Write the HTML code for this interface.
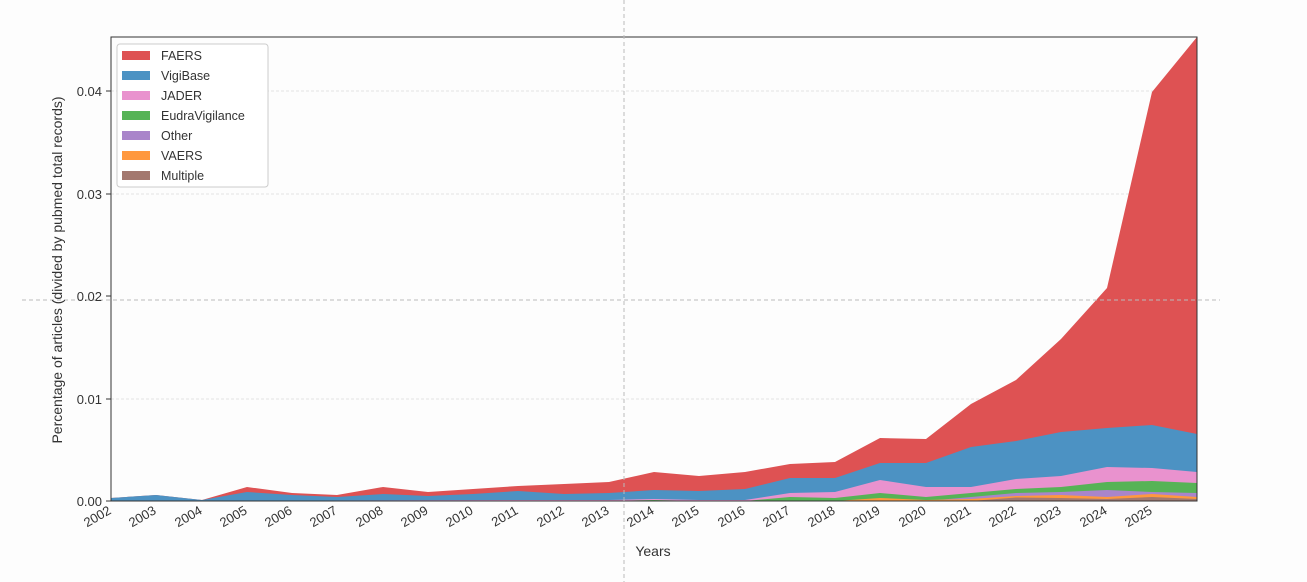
<!DOCTYPE html>
<html><head><meta charset="utf-8"><style>
html,body{margin:0;padding:0;background:#fff;}
svg{display:block;font-family:"Liberation Sans","DejaVu Sans",sans-serif;}
</style></head><body>
<svg width="1307" height="582" viewBox="0 0 1307 582" xmlns="http://www.w3.org/2000/svg">
<rect width="1307" height="582" fill="#fdfdfd"/>
<g stroke="#e4e4e4" stroke-dasharray="3,2" stroke-width="1">
<line x1="111" y1="91" x2="1197" y2="91"/>
<line x1="111" y1="194" x2="1197" y2="194"/>
<line x1="111" y1="399" x2="1197" y2="399"/>
</g>
<polygon fill="#de5253" points="111,498 156,495 202,500 247,487 292,493 337,495 383,487 428,492 473,489 518,486 564,484 609,482 654,472 699,476 745,472 790,464 835,462 880,438 926,439 971,404 1016,380 1061,339 1107,288 1152,92 1197,37 1197,501 111,501"/>
<polygon fill="#4c92c3" points="111,498 156,495 202,500 247,492 292,495 337,497 383,494 428,496 473,494 518,491 564,494 609,493 654,490 699,491 745,489 790,478 835,478 880,463 926,463 971,447 1016,441 1061,432 1107,428 1152,425 1197,434 1197,501 111,501"/>
<polygon fill="#e992ce" points="111,501 518,500 609,500 654,499 699,500 745,500 790,493 835,492 880,480 926,487 971,487 1016,479 1061,476 1107,467 1152,468 1197,472 1197,501 111,501"/>
<polygon fill="#56b356" points="111,501 609,501 654,500 699,501 745,501 790,497 835,498 880,493 926,497 971,493 1016,489 1061,487 1107,482 1152,481 1197,483 1197,501 111,501"/>
<polygon fill="#a985ca" points="111,501 926,501 971,497 1016,493 1061,492 1107,490 1152,492 1197,493 1197,501 111,501"/>
<polygon fill="#ff983e" points="111,501 835,501 880,498 926,500 971,499 1016,496 1061,495 1107,497 1152,494 1197,497 1197,501 111,501"/>
<polygon fill="#a3786f" points="111,501 971,501 1016,497.5 1061,498 1107,499 1152,497 1197,499 1197,501 111,501"/>
<rect x="111" y="37" width="1086" height="464" fill="none" stroke="#333" stroke-width="1"/>
<line x1="624" y1="0" x2="624" y2="582" stroke="#bbb" stroke-dasharray="4,3"/>
<line x1="22" y1="300" x2="1220" y2="300" stroke="#bbb" stroke-dasharray="4,3"/>
<g font-size="13" fill="#333" text-anchor="end">
<text x="102" y="506">0.00</text>
<text x="102" y="404">0.01</text>
<text x="102" y="301">0.02</text>
<text x="102" y="199">0.03</text>
<text x="102" y="96">0.04</text>
</g>
<g stroke="#333"><line x1="106" y1="501" x2="111" y2="501"/><line x1="106" y1="399" x2="111" y2="399"/><line x1="106" y1="296" x2="111" y2="296"/><line x1="106" y1="194" x2="111" y2="194"/><line x1="106" y1="91" x2="111" y2="91"/></g>
<g font-size="13" fill="#333" text-anchor="end">
<text transform="translate(112,513) rotate(-30)">2002</text>
<text transform="translate(157,513) rotate(-30)">2003</text>
<text transform="translate(203,513) rotate(-30)">2004</text>
<text transform="translate(248,513) rotate(-30)">2005</text>
<text transform="translate(293,513) rotate(-30)">2006</text>
<text transform="translate(338,513) rotate(-30)">2007</text>
<text transform="translate(384,513) rotate(-30)">2008</text>
<text transform="translate(429,513) rotate(-30)">2009</text>
<text transform="translate(474,513) rotate(-30)">2010</text>
<text transform="translate(519,513) rotate(-30)">2011</text>
<text transform="translate(565,513) rotate(-30)">2012</text>
<text transform="translate(610,513) rotate(-30)">2013</text>
<text transform="translate(655,513) rotate(-30)">2014</text>
<text transform="translate(700,513) rotate(-30)">2015</text>
<text transform="translate(746,513) rotate(-30)">2016</text>
<text transform="translate(791,513) rotate(-30)">2017</text>
<text transform="translate(836,513) rotate(-30)">2018</text>
<text transform="translate(881,513) rotate(-30)">2019</text>
<text transform="translate(927,513) rotate(-30)">2020</text>
<text transform="translate(972,513) rotate(-30)">2021</text>
<text transform="translate(1017,513) rotate(-30)">2022</text>
<text transform="translate(1062,513) rotate(-30)">2023</text>
<text transform="translate(1108,513) rotate(-30)">2024</text>
<text transform="translate(1153,513) rotate(-30)">2025</text>
</g>
<text x="653" y="556" font-size="14" fill="#333" text-anchor="middle">Years</text>
<text transform="translate(62,270) rotate(-90)" font-size="14" fill="#333" text-anchor="middle">Percentage of articles (divided by pubmed total records)</text>
<rect x="117" y="44" width="151" height="143" fill="#fff" stroke="#ccc" rx="3"/>
<g font-size="12.5" fill="#333">
<rect x="122" y="51" width="28" height="9" fill="#de5253"/><text x="161" y="60">FAERS</text>
<rect x="122" y="71" width="28" height="9" fill="#4c92c3"/><text x="161" y="80">VigiBase</text>
<rect x="122" y="91" width="28" height="9" fill="#e992ce"/><text x="161" y="100">JADER</text>
<rect x="122" y="111" width="28" height="9" fill="#56b356"/><text x="161" y="120">EudraVigilance</text>
<rect x="122" y="131" width="28" height="9" fill="#a985ca"/><text x="161" y="140">Other</text>
<rect x="122" y="151" width="28" height="9" fill="#ff983e"/><text x="161" y="160">VAERS</text>
<rect x="122" y="171" width="28" height="9" fill="#a3786f"/><text x="161" y="180">Multiple</text>
</g>
</svg>
</body></html>
